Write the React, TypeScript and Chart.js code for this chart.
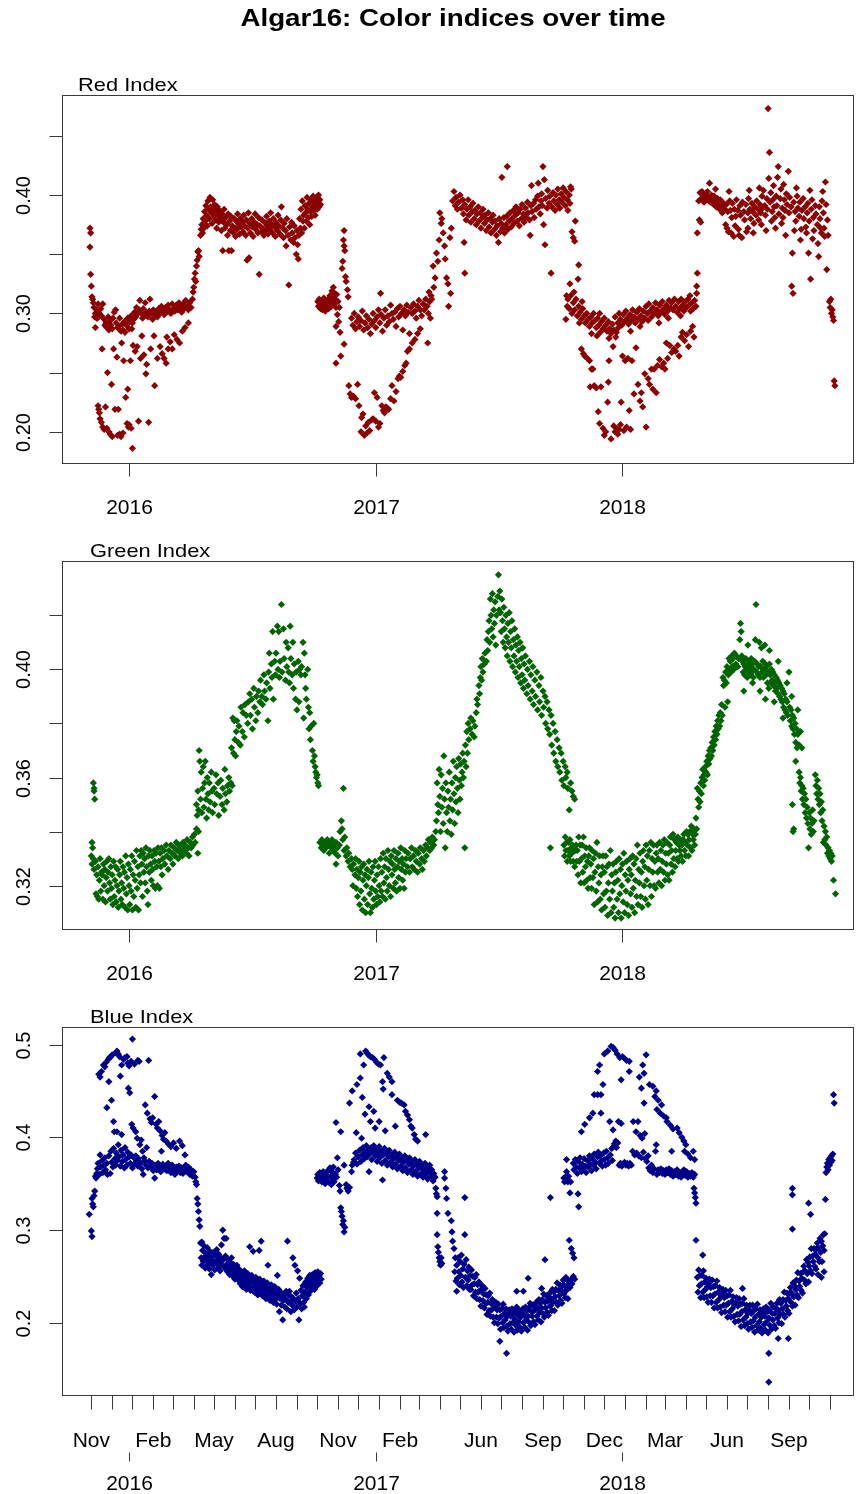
import React, { useEffect, useRef } from "react";
import { Chart, registerables } from "chart.js";

Chart.register(...registerables);

type Pt = [number, number]; // [days since 2016-01-01, index value]

// ---- Red chromatic index ----
const redPoints: Pt[] = [
  [-58,0.372],[-57,0.368],[-58,0.356],[-57,0.333],[-56,0.323],[-55,0.314],[-54,0.312],[-53,0.309],[-52,0.305],[-51,0.297],[-50,0.288],[-49,0.300],[-48,0.296],
  [-46,0.222],[-45,0.219],[-44,0.216],[-43,0.211],[-41,0.208],[-40,0.270],[-39,0.204],[-37,0.202],[-35,0.221],[-33,0.203],[-32,0.250],[-30,0.200],[-28,0.198],[-26,0.240],[-25,0.196],[-23,0.270],[-21,0.219],[-18,0.263],[-17,0.197],[-16,0.219],[-14,0.198],[-12,0.196],[-11,0.275],[-9,0.199],[-8,0.260],[-5,0.229],[-3,0.207],[-2,0.236],[-1,0.204],[0,0.206],[2,0.260],[3,0.203],[4,0.287],[5,0.186],[6,0.273],[9,0.268],[12,0.272],[14,0.209],[17,0.262],[19,0.281],[22,0.265],[25,0.249],[26,0.257],[29,0.208],[32,0.270],[37,0.281],[38,0.239],[42,0.262],[46,0.272],[49,0.266],[52,0.262],[55,0.258],[56,0.280],[58,0.270],[61,0.276],[64,0.270],[67,0.282],[71,0.278],[75,0.275],[79,0.285],[83,0.288],[88,0.292],
  [-50,0.300],[-48,0.303],[-47,0.296],[-46,0.308],[-44,0.300],[-42,0.304],[-41,0.298],[-39,0.308],[-37,0.295],[-36,0.290],[-34,0.292],[-33,0.288],[-31,0.297],[-30,0.286],[-29,0.293],[-27,0.290],[-25,0.287],[-24,0.296],[-22,0.301],[-20,0.303],[-19,0.292],[-17,0.288],[-15,0.289],[-14,0.296],[-12,0.285],[-10,0.291],[-9,0.286],[-7,0.293],[-6,0.284],[-4,0.290],[-2,0.296],[0,0.287],[1,0.293],[3,0.298],[5,0.292],[7,0.295],[8,0.301],[10,0.297],[11,0.305],[13,0.300],[15,0.303],[16,0.311],[18,0.300],[20,0.296],[21,0.304],[23,0.299],[24,0.309],[26,0.301],[28,0.297],[30,0.302],[31,0.312],[33,0.300],[35,0.295],[36,0.303],[38,0.299],[40,0.301],[42,0.297],[44,0.304],[46,0.300],[48,0.306],[50,0.303],[52,0.299],[54,0.305],[56,0.301],[58,0.307],[60,0.303],[62,0.300],[64,0.308],[66,0.304],[68,0.302],[70,0.307],[72,0.303],[74,0.309],[76,0.305],[78,0.301],[80,0.308],[82,0.304],[84,0.311],[86,0.306],[88,0.303],[90,0.309],[92,0.305],[94,0.312],
  [95,0.318],[96,0.322],[97,0.329],[98,0.334],[99,0.327],[100,0.340],[101,0.345],[102,0.352],[103,0.353],[104,0.348],[106,0.366],[107,0.371],[108,0.375],[109,0.368],
  [110,0.380],[111,0.372],[112,0.386],[113,0.378],[114,0.391],[115,0.383],[116,0.374],[117,0.395],[118,0.388],[119,0.380],[120,0.398],[121,0.390],[122,0.385],[123,0.376],[124,0.396],[125,0.388],[126,0.382],[127,0.392],[128,0.379],[129,0.386],[130,0.372],[131,0.390],[132,0.383],[133,0.377],[134,0.387],[136,0.380],[137,0.370],[138,0.384],[139,0.353],[140,0.377],[141,0.388],[142,0.372],[143,0.381],[145,0.375],[146,0.366],[147,0.384],[148,0.353],[149,0.378],[150,0.370],[151,0.382],[152,0.353],[153,0.374],[155,0.368],[156,0.380],[157,0.372],[158,0.365],[159,0.378],[160,0.371],[161,0.384],[163,0.375],[164,0.367],[165,0.380],[166,0.373],[168,0.377],[169,0.369],[170,0.383],[171,0.374],[173,0.366],[174,0.379],[175,0.345],[176,0.372],[177,0.385],[178,0.347],[179,0.376],[180,0.368],[182,0.380],[183,0.373],[184,0.365],[186,0.377],[187,0.384],[188,0.371],[190,0.375],[191,0.368],[192,0.381],[193,0.333],[194,0.374],[196,0.369],[197,0.379],[198,0.372],[200,0.366],[201,0.377],[202,0.370],[204,0.382],[205,0.374],[206,0.367],[208,0.378],[209,0.371],[210,0.385],[212,0.375],[213,0.368],[214,0.380],[216,0.373],[217,0.365],[218,0.377],[220,0.370],[221,0.383],[222,0.374],[224,0.367],[225,0.379],[226,0.390],[228,0.372],[229,0.364],[230,0.376],[232,0.370],[233,0.357],[234,0.380],[236,0.366],[237,0.324],[238,0.373],[240,0.362],[241,0.377],[242,0.368],[244,0.360],[245,0.374],[246,0.364],[248,0.350],[249,0.370],[250,0.358],[251,0.346],[252,0.366],[253,0.380],[254,0.372],[255,0.388],[256,0.368],[257,0.395],[258,0.378],[259,0.383],[260,0.372],[261,0.391],[262,0.385],[263,0.378],[264,0.398],[265,0.388],[266,0.381],[267,0.393],[268,0.375],[269,0.386],[270,0.396],[271,0.382],[272,0.390],[273,0.399],[274,0.387],[275,0.394],[276,0.383],[277,0.391],[278,0.397],[279,0.388],[280,0.394],[281,0.400],[282,0.390],[283,0.396],[284,0.392],
  [280,0.310],[281,0.306],[282,0.312],[283,0.308],[284,0.304],[285,0.311],[286,0.307],[287,0.303],[288,0.309],[289,0.313],[290,0.306],[291,0.302],[292,0.310],[293,0.305],[294,0.308],[295,0.312],[296,0.304],[297,0.309],[298,0.315],[299,0.311],[300,0.306],[301,0.319],[302,0.313],[303,0.322],[304,0.308],[305,0.317],[306,0.312],[307,0.305],[308,0.316],[309,0.299],[310,0.310],[311,0.293],[312,0.305],
  [319,0.370],[318,0.362],[319,0.357],[320,0.353],[317,0.344],[316,0.338],[321,0.331],[322,0.327],[324,0.320],[325,0.314],[307,0.289],[313,0.284],[319,0.274],[307,0.258],[314,0.264],
  [326,0.239],[328,0.232],[330,0.229],[333,0.230],[336,0.228],[339,0.240],[341,0.222],[344,0.200],[345,0.212],[347,0.215],[349,0.197],[351,0.205],[353,0.199],[355,0.208],[357,0.201],[360,0.210],[362,0.211],[364,0.233],[366,0.209],[368,0.229],[370,0.204],[372,0.207],[375,0.222],[377,0.218],[379,0.216],[381,0.221],[383,0.220],[385,0.219],[388,0.228],[390,0.239],[393,0.226],[396,0.234],[399,0.245],[401,0.247],[403,0.246],[406,0.251],[409,0.256],[411,0.258],[413,0.268],[416,0.270],[420,0.275],[424,0.278],[428,0.283],[432,0.287],
  [330,0.296],[332,0.290],[334,0.300],[336,0.287],[338,0.293],[340,0.297],[342,0.289],[344,0.294],[346,0.302],[348,0.286],[350,0.292],[352,0.298],[354,0.288],[356,0.295],[358,0.283],[360,0.291],[362,0.300],[364,0.294],[366,0.288],[368,0.297],[370,0.303],[372,0.292],[373,0.317],[374,0.299],[376,0.285],[378,0.296],[380,0.303],[382,0.290],[384,0.298],[386,0.293],[388,0.307],[390,0.300],[392,0.295],[394,0.301],[396,0.289],[398,0.304],[400,0.297],[402,0.306],[404,0.300],[406,0.286],[408,0.303],[410,0.298],[412,0.307],[414,0.301],[416,0.283],[418,0.305],[420,0.300],[422,0.308],[424,0.302],[426,0.296],[428,0.306],[430,0.311],[432,0.303],[434,0.298],[436,0.308],[438,0.303],[440,0.312],[442,0.306],[444,0.300],[446,0.310],[448,0.315],
  [443,0.275],[445,0.318],[447,0.296],[449,0.312],[451,0.340],[452,0.322],[454,0.330],[456,0.351],[458,0.344],[460,0.362],[461,0.385],[463,0.376],[464,0.380],[466,0.368],[468,0.357],[469,0.346],[471,0.330],[473,0.325],[474,0.306],[476,0.364],[477,0.317],[478,0.372],[480,0.395],[482,0.403],[484,0.391],[485,0.398],[487,0.388],[489,0.394],[491,0.400],[493,0.389],[495,0.396],[497,0.360],[498,0.334],
  [496,0.384],[498,0.392],[500,0.379],[501,0.388],[503,0.396],[504,0.383],[506,0.390],[507,0.377],[509,0.386],[510,0.393],[512,0.380],[513,0.387],[515,0.375],[516,0.384],[518,0.390],[519,0.378],[521,0.385],[522,0.372],[524,0.381],[525,0.388],[527,0.376],[528,0.383],[530,0.370],[531,0.379],[533,0.385],[534,0.373],[536,0.380],[537,0.368],[539,0.377],[540,0.383],[542,0.371],[543,0.378],[545,0.366],[546,0.374],[548,0.360],[549,0.380],[551,0.369],[552,0.376],[553,0.415],[554,0.372],[556,0.381],[557,0.368],[559,0.375],[560,0.382],[561,0.424],[562,0.371],[564,0.378],[565,0.385],[567,0.373],[568,0.380],[570,0.387],[571,0.376],[573,0.383],[574,0.390],[576,0.378],[577,0.385],[579,0.374],[580,0.388],[582,0.380],[583,0.392],[585,0.384],[586,0.377],[588,0.389],[589,0.381],[591,0.394],[592,0.385],[594,0.379],[595,0.366],[596,0.391],[597,0.408],[598,0.386],[600,0.393],[601,0.381],[603,0.396],[604,0.388],[606,0.399],[607,0.410],[608,0.390],[610,0.384],[611,0.395],[612,0.401],[613,0.391],[614,0.424],[615,0.375],[616,0.413],[617,0.358],[618,0.397],[620,0.389],[621,0.404],[623,0.393],[624,0.399],[626,0.334],[627,0.390],[629,0.402],[630,0.395],[632,0.387],[633,0.400],[635,0.392],[636,0.405],[638,0.396],[639,0.389],[641,0.401],[642,0.394],[644,0.406],[645,0.398],[647,0.391],[648,0.403],[650,0.396],[651,0.387],[653,0.400],[654,0.393],[656,0.405],
  [655,0.407],[657,0.369],[659,0.364],[661,0.361],[662,0.378],[666,0.329],[667,0.341],[654,0.325],[649,0.315],[650,0.306],[648,0.295],
  [651,0.312],[653,0.304],[655,0.315],[657,0.300],[659,0.309],[661,0.303],[663,0.312],[665,0.298],[667,0.306],[669,0.301],[671,0.295],[673,0.304],[675,0.298],[677,0.292],[679,0.300],[681,0.295],[683,0.289],[685,0.297],[687,0.292],[689,0.300],[691,0.294],[693,0.288],[695,0.296],[697,0.290],[699,0.284],[701,0.293],[703,0.287],[705,0.296],[707,0.290],[709,0.285],[711,0.293],[713,0.287],[715,0.283],[717,0.291],[719,0.286],[721,0.297],[723,0.284],[725,0.292],[727,0.300],[729,0.295],[731,0.290],[733,0.299],[735,0.293],[737,0.302],[739,0.296],[741,0.291],[743,0.299],[745,0.294],[747,0.303],[749,0.297],[751,0.292],[753,0.301],[755,0.295],[757,0.304],[759,0.298],[761,0.293],[763,0.302],[765,0.296],[767,0.306],[769,0.300],[771,0.308],[773,0.302],[775,0.297],[777,0.305],[779,0.300],[781,0.309],[783,0.303],[785,0.298],[787,0.307],[789,0.301],[791,0.310],[793,0.304],[795,0.299],[797,0.307],[799,0.302],[801,0.311],[803,0.305],[805,0.309],[807,0.303],[809,0.312],[811,0.306],[813,0.301],[815,0.310],[817,0.304],[819,0.312],[821,0.307],[823,0.302],[825,0.310],[827,0.305],[829,0.312],[831,0.307],[833,0.302],[835,0.309],[837,0.304],[839,0.311],
  [660,0.318],[668,0.292],[672,0.310],[686,0.283],[694,0.281],[698,0.300],[712,0.279],[722,0.280],[726,0.288],[744,0.285],[758,0.289],[770,0.294],[786,0.292],[800,0.296],[818,0.298],[832,0.315],
  [671,0.270],[674,0.266],[676,0.264],[680,0.262],[683,0.260],[684,0.238],[686,0.253],[688,0.253],[690,0.239],[693,0.237],[696,0.217],[698,0.207],[700,0.238],[703,0.203],[705,0.197],[707,0.200],[710,0.225],[711,0.242],[712,0.260],[715,0.194],[718,0.272],[719,0.205],[721,0.200],[723,0.203],[725,0.198],[727,0.202],[729,0.206],[730,0.225],[732,0.264],[734,0.201],[736,0.260],[738,0.204],[740,0.262],[742,0.218],[744,0.202],[746,0.260],[749,0.232],[752,0.271],[755,0.240],[758,0.226],[760,0.233],[762,0.221],[765,0.249],[767,0.204],[770,0.245],[772,0.240],[775,0.253],[777,0.236],[779,0.253],[782,0.233],[784,0.256],[787,0.261],[790,0.255],[793,0.258],[795,0.253],[797,0.275],[799,0.262],[802,0.273],[805,0.267],[808,0.270],[811,0.268],[814,0.273],[816,0.264],[819,0.280],[821,0.284],[824,0.277],[827,0.282],[830,0.272],[833,0.285],[836,0.289],[838,0.280],
  [841,0.306],[842,0.317],[842,0.323],[843,0.334],[843,0.368],[846,0.379],[848,0.377],
  [845,0.395],[847,0.402],[849,0.397],[850,0.403],[852,0.399],[853,0.394],[855,0.401],[856,0.396],[858,0.403],[859,0.398],[861,0.410],[862,0.394],[864,0.400],[865,0.396],[867,0.392],[868,0.399],[870,0.394],[871,0.390],[873,0.397],[874,0.392],[876,0.388],[877,0.396],[879,0.390],[880,0.385],[882,0.393],[883,0.388],[885,0.375],[886,0.392],[888,0.386],[889,0.369],[891,0.395],[892,0.387],[894,0.381],[895,0.393],[897,0.365],[898,0.388],[900,0.382],[901,0.396],[903,0.387],[904,0.371],[906,0.391],[907,0.383],[909,0.364],[910,0.394],[912,0.386],[913,0.379],[915,0.392],[916,0.369],[918,0.385],[919,0.397],[921,0.388],[922,0.380],[924,0.393],[925,0.386],[927,0.376],[928,0.390],[930,0.383],[931,0.395],[933,0.388],[934,0.379],[936,0.392],[937,0.385],[939,0.399],[940,0.389],[941,0.404],[943,0.391],[944,0.383],[946,0.397],[947,0.388],[948,0.473],[949,0.414],[950,0.436],[951,0.394],[952,0.402],[954,0.386],[955,0.396],[957,0.390],[958,0.381],[960,0.399],[961,0.391],[962,0.415],[963,0.424],[964,0.384],[966,0.397],[967,0.405],[969,0.389],[970,0.381],[972,0.396],[973,0.387],[975,0.401],[976,0.392],[978,0.420],[979,0.385],[980,0.398],[982,0.390],[983,0.323],[984,0.351],[985,0.317],[986,0.394],[988,0.386],[989,0.378],[991,0.399],[992,0.389],[994,0.382],[995,0.394],[997,0.371],[998,0.387],[1000,0.397],[1001,0.380],[1003,0.390],[1004,0.373],[1006,0.385],[1007,0.393],[1008,0.351],[1009,0.378],[1011,0.329],[1012,0.388],[1013,0.396],[1015,0.381],[1016,0.370],[1018,0.391],[1019,0.384],[1021,0.375],[1022,0.359],[1023,0.348],[1024,0.390],[1025,0.380],[1027,0.368],[1028,0.395],[1030,0.385],[1031,0.372],[1033,0.411],[1034,0.392],[1035,0.337],[1036,0.379],[1037,0.366],
  [887,0.372],[893,0.368],[899,0.374],[905,0.366],[918,0.372],[926,0.368],[938,0.375],[945,0.370],[953,0.378],[959,0.372],[968,0.376],[974,0.366],[987,0.370],[996,0.362],[1005,0.368],[1014,0.363],[1026,0.372],[1032,0.365],
  [870,0.405],[890,0.403],[920,0.404],[935,0.406],[956,0.408],[971,0.409],[990,0.406],[1010,0.404],[1029,0.403],
  [1039,0.310],[1040,0.305],[1041,0.312],[1042,0.300],[1043,0.303],[1044,0.297],[1045,0.294],[1046,0.243],[1047,0.239],
];

// ---- Green chromatic index ----
const greenPoints: Pt[] = [
  [-53,0.358],[-52,0.356],[-52,0.355],[-51,0.352],[-55,0.336],[-54,0.334],
  [-56,0.331],[-55,0.328],[-53,0.330],[-52,0.326],[-50,0.329],[-49,0.317],[-48,0.324],[-47,0.316],[-46,0.327],[-45,0.315],[-44,0.322],[-43,0.330],[-42,0.318],[-41,0.325],[-40,0.324],[-39,0.315],[-38,0.328],[-37,0.320],[-36,0.326],[-35,0.314],[-34,0.323],[-33,0.329],[-32,0.318],[-31,0.325],[-30,0.330],[-29,0.321],[-28,0.315],[-27,0.327],[-26,0.319],[-25,0.324],[-24,0.313],[-23,0.329],[-22,0.316],[-21,0.322],[-20,0.327],[-19,0.314],[-18,0.320],[-17,0.326],[-16,0.312],[-15,0.318],[-14,0.324],[-13,0.329],[-12,0.315],[-11,0.321],[-10,0.313],[-9,0.327],[-8,0.319],[-7,0.325],[-6,0.312],[-5,0.331],[-4,0.317],[-3,0.323],[-2,0.311],[-1,0.328],[0,0.320],[1,0.313],[2,0.326],[3,0.318],[4,0.331],[5,0.311],[6,0.324],[7,0.316],[8,0.329],[9,0.322],[10,0.312],[11,0.333],[12,0.319],[13,0.327],[14,0.311],[15,0.324],[16,0.331],[17,0.321],[18,0.333],[19,0.328],[20,0.316],[21,0.332],[22,0.325],[23,0.330],[24,0.321],[25,0.334],[26,0.327],[27,0.318],[28,0.313],[29,0.331],[30,0.325],[31,0.333],[32,0.328],[33,0.322],[34,0.331],[35,0.326],[36,0.320],[37,0.333],[38,0.329],[39,0.319],[40,0.332],[41,0.327],[42,0.320],[43,0.334],[44,0.329],[45,0.319],[46,0.332],[47,0.327],[48,0.334],[49,0.324],[50,0.330],[52,0.333],[53,0.328],[55,0.335],[56,0.331],[58,0.326],[59,0.333],[61,0.330],[62,0.335],[64,0.332],[65,0.328],[67,0.334],[68,0.331],[70,0.336],[71,0.333],[73,0.330],[74,0.335],[76,0.332],[77,0.334],[79,0.331],[80,0.336],[82,0.333],[83,0.335],[85,0.332],[86,0.337],[88,0.334],[89,0.331],[91,0.336],[92,0.334],[94,0.338],[95,0.335],[97,0.339],[98,0.336],[100,0.341],[102,0.332],[103,0.340],
  [100,0.350],[101,0.346],[102,0.355],[103,0.348],[104,0.370],[105,0.366],[106,0.352],[107,0.362],[108,0.347],[109,0.356],[110,0.364],[111,0.349],[112,0.358],[113,0.366],[114,0.352],[115,0.345],[116,0.360],[117,0.354],[118,0.348],[119,0.358],[120,0.351],[122,0.362],[123,0.355],[124,0.347],[126,0.356],[127,0.350],[129,0.361],[130,0.354],[132,0.358],[133,0.346],[135,0.353],[136,0.359],[138,0.350],[139,0.356],[141,0.348],[142,0.363],[143,0.354],[145,0.351],[146,0.357],[148,0.360],[149,0.355],[151,0.358],[152,0.371],[153,0.357],[154,0.382],[155,0.369],[156,0.381],[157,0.374],[158,0.368],[159,0.377],[160,0.381],[162,0.373],[163,0.379],[165,0.372],[166,0.386],[168,0.377],[169,0.384],[171,0.375],[172,0.387],[174,0.383],[176,0.380],[177,0.388],[179,0.391],[180,0.383],[182,0.389],[183,0.378],[185,0.393],[186,0.386],[188,0.381],[189,0.390],[191,0.384],[192,0.392],[194,0.388],[195,0.396],[197,0.390],[198,0.387],[200,0.398],[201,0.392],[203,0.389],[204,0.395],[206,0.381],[207,0.399],[208,0.406],[209,0.393],[211,0.402],[212,0.397],[213,0.414],[214,0.389],[216,0.403],[217,0.398],[218,0.406],[220,0.416],[221,0.400],[222,0.414],[223,0.397],[224,0.403],[226,0.424],[227,0.399],[229,0.415],[230,0.404],[232,0.396],[233,0.410],[234,0.401],[236,0.408],[237,0.399],[238,0.395],[239,0.416],[240,0.404],[242,0.398],[243,0.410],[244,0.393],[245,0.402],[247,0.389],[248,0.399],[249,0.385],[251,0.403],[252,0.388],[253,0.400],[255,0.398],[256,0.401],[258,0.410],[259,0.382],[260,0.406],[261,0.398],[262,0.393],[263,0.389],[265,0.400],[266,0.386],[267,0.378],[268,0.384],[269,0.374],[270,0.379],[272,0.370],[273,0.366],[274,0.380],[275,0.368],[276,0.364],[277,0.362],[278,0.360],[279,0.361],[280,0.358],[281,0.357],
  [318,0.356],[283,0.336],[285,0.334],[286,0.337],[288,0.335],[289,0.333],[291,0.336],[292,0.334],[294,0.337],[295,0.335],[297,0.332],[298,0.336],[300,0.334],[301,0.337],[303,0.333],[304,0.335],[306,0.332],[307,0.336],[309,0.334],[310,0.331],[312,0.335],[313,0.340],[315,0.344],[316,0.341],[317,0.337],[319,0.333],[320,0.338],[322,0.331],[323,0.334],[325,0.329],[326,0.332],[328,0.327],
  [307,0.328],[330,0.330],[331,0.326],[332,0.320],[333,0.328],[335,0.324],[336,0.330],[337,0.319],[338,0.326],[339,0.316],[340,0.323],[341,0.329],[342,0.313],[343,0.325],[344,0.318],[345,0.327],[346,0.311],[347,0.322],[348,0.328],[349,0.315],[350,0.324],[351,0.310],[352,0.320],[353,0.326],[354,0.313],[355,0.323],[356,0.329],[357,0.317],[358,0.310],[359,0.325],[360,0.319],[361,0.312],[362,0.327],[363,0.315],[364,0.322],[365,0.329],[366,0.318],[367,0.313],[368,0.324],[369,0.316],[370,0.327],[371,0.320],[372,0.314],[373,0.330],[374,0.318],[375,0.325],[376,0.316],[377,0.332],[378,0.321],[379,0.327],[380,0.315],[381,0.330],[382,0.323],[383,0.318],[384,0.333],[385,0.326],[386,0.320],[387,0.329],[388,0.316],[389,0.331],[390,0.324],[391,0.328],[392,0.319],[393,0.333],[394,0.326],[395,0.321],[396,0.330],[397,0.318],[398,0.327],[399,0.332],[400,0.323],[401,0.329],[402,0.319],[403,0.334],[404,0.326],[405,0.330],[406,0.322],[407,0.328],[408,0.319],[409,0.333],[410,0.325],[411,0.330],[413,0.327],[414,0.332],[416,0.325],[417,0.330],[419,0.334],[420,0.327],[422,0.331],[423,0.326],[425,0.333],[426,0.329],[428,0.325],[429,0.332],[431,0.328],[432,0.334],[434,0.330],[435,0.326],[437,0.333],[438,0.329],[440,0.335],[441,0.331],[443,0.334],[444,0.337],[446,0.333],[447,0.336],[449,0.334],[450,0.338],[452,0.335],[453,0.337],[455,0.340],
  [456,0.344],[457,0.358],[458,0.350],[459,0.347],[460,0.363],[461,0.353],[462,0.340],[463,0.361],[464,0.349],[465,0.356],[466,0.343],[467,0.368],[468,0.352],[469,0.334],[470,0.358],[471,0.347],[472,0.340],[473,0.355],[474,0.349],[475,0.362],[476,0.344],[477,0.352],[478,0.339],[479,0.358],[480,0.348],[481,0.366],[482,0.354],[483,0.343],[484,0.360],[485,0.351],[486,0.364],[487,0.356],[488,0.347],[489,0.367],[490,0.359],[491,0.352],[492,0.365],[493,0.357],[494,0.362],[495,0.369],[496,0.360],[497,0.366],[498,0.334],[499,0.372],[500,0.364],[501,0.377],[502,0.369],[503,0.380],[504,0.374],[506,0.378],[507,0.382],[509,0.376],[510,0.381],[512,0.375],[513,0.379],[515,0.384],[516,0.389],[517,0.387],[519,0.394],[520,0.391],[521,0.397],[522,0.401],[523,0.396],[524,0.404],[525,0.399],[527,0.402],[528,0.406],[530,0.403],[531,0.411],[532,0.407],[533,0.414],[534,0.418],[535,0.410],[536,0.426],[537,0.420],[538,0.415],[539,0.428],[540,0.412],[541,0.422],[542,0.417],[543,0.425],[544,0.409],[545,0.420],[547,0.427],[548,0.435],[549,0.422],[550,0.429],
  [551,0.421],[552,0.414],[553,0.426],[554,0.418],[555,0.410],[556,0.423],[557,0.415],[558,0.408],[559,0.420],[560,0.412],[561,0.405],[562,0.417],[563,0.410],[564,0.421],[565,0.403],[566,0.414],[567,0.408],[568,0.418],[569,0.401],[570,0.411],[571,0.405],[572,0.415],[573,0.399],[574,0.409],[575,0.403],[576,0.412],[577,0.397],[578,0.407],[579,0.401],[580,0.410],[581,0.395],[582,0.404],[583,0.398],[584,0.408],[585,0.393],[586,0.402],[587,0.396],[588,0.405],[590,0.391],[591,0.400],[592,0.394],[594,0.403],[595,0.389],[596,0.398],[598,0.392],[599,0.401],[600,0.387],[602,0.396],[603,0.390],[605,0.399],[606,0.385],[608,0.394],[609,0.388],[611,0.397],[612,0.383],[614,0.392],[615,0.386],[617,0.390],[618,0.380],[620,0.388],[621,0.378],[623,0.385],[624,0.376],[625,0.334],[626,0.383],[627,0.372],[629,0.380],[630,0.369],[632,0.377],[633,0.366],[635,0.374],[636,0.364],[638,0.371],[639,0.362],[641,0.369],[642,0.359],[644,0.366],[645,0.357],[647,0.364],[648,0.360],[650,0.362],[651,0.356],[653,0.348],[655,0.358],[657,0.355],[659,0.353],[661,0.352],
  [645,0.335],[646,0.331],[647,0.338],[648,0.333],[649,0.336],[650,0.329],[651,0.333],[652,0.336],[653,0.331],[654,0.337],[655,0.329],[656,0.334],[657,0.332],[658,0.335],[659,0.329],[660,0.333],[661,0.327],[662,0.333],[663,0.335],[664,0.329],[665,0.333],[666,0.324],[667,0.338],[668,0.329],[669,0.335],[670,0.321],[671,0.330],[672,0.335],[673,0.325],[674,0.338],[675,0.321],[676,0.331],[677,0.327],[678,0.334],[679,0.322],[680,0.329],[681,0.319],[682,0.331],[683,0.334],[684,0.323],[685,0.328],[686,0.319],[687,0.333],[688,0.323],[689,0.330],[690,0.313],[691,0.325],[692,0.332],[693,0.318],[694,0.336],[695,0.314],[696,0.327],[697,0.321],[698,0.331],[699,0.315],[700,0.324],[701,0.311],[702,0.327],[703,0.331],[704,0.317],[705,0.325],[706,0.312],[707,0.331],[708,0.318],[709,0.327],[710,0.309],[711,0.321],[712,0.328],[713,0.315],[714,0.333],[715,0.310],[716,0.324],[717,0.318],[718,0.328],[719,0.312],[720,0.321],[721,0.308],[722,0.325],[723,0.329],[724,0.315],[725,0.322],[726,0.310],[727,0.330],[728,0.317],[729,0.326],[730,0.308],[731,0.320],[732,0.328],[733,0.314],[734,0.332],[735,0.310],[736,0.324],[737,0.318],[738,0.329],[739,0.313],[740,0.322],[741,0.309],[742,0.326],[743,0.330],[744,0.317],[745,0.324],[746,0.312],[747,0.331],[748,0.319],[749,0.328],[750,0.310],[751,0.322],[752,0.330],[753,0.316],[754,0.335],[755,0.313],[756,0.326],[757,0.321],[758,0.332],[759,0.316],[760,0.325],[761,0.312],[762,0.329],[763,0.333],[764,0.320],[765,0.327],[766,0.315],[767,0.335],[768,0.322],[769,0.331],[770,0.313],[771,0.326],[772,0.333],[773,0.320],[774,0.336],[775,0.316],[776,0.330],[777,0.325],[778,0.335],[779,0.320],[780,0.329],[781,0.319],[782,0.332],[783,0.335],[784,0.325],[785,0.330],[786,0.321],[787,0.336],[788,0.326],[789,0.333],[790,0.320],[791,0.329],[792,0.335],[793,0.325],[794,0.337],[795,0.322],[796,0.332],[797,0.328],[798,0.336],[799,0.324],[800,0.332],[801,0.322],[802,0.335],[803,0.338],[804,0.328],[805,0.333],[806,0.325],[807,0.339],[808,0.330],[809,0.337],[810,0.327],[811,0.333],[812,0.336],[813,0.330],[814,0.338],[815,0.329],[816,0.335],[817,0.333],[818,0.337],[819,0.331],[820,0.335],[821,0.329],[822,0.337],[823,0.339],[824,0.333],[825,0.336],[826,0.331],[827,0.340],[828,0.335],[829,0.339],[830,0.331],[831,0.337],[832,0.340],[833,0.334],[834,0.342],[835,0.333],[836,0.339],[837,0.337],[838,0.341],[839,0.335],[840,0.339],
  [841,0.345],[842,0.341],[843,0.356],[844,0.352],[845,0.349],[846,0.355],[847,0.351],[848,0.358],[849,0.354],[850,0.360],[851,0.363],[852,0.357],[853,0.361],[854,0.359],[855,0.364],[856,0.362],[857,0.366],[858,0.361],[859,0.368],[860,0.365],[861,0.370],[862,0.367],[863,0.371],[864,0.368],[865,0.373],[866,0.370],[867,0.375],[868,0.372],[869,0.377],[870,0.374],[871,0.379],[872,0.376],[873,0.381],[874,0.378],[875,0.383],[876,0.379],[877,0.384],[878,0.381],[879,0.387],[880,0.383],[881,0.397],[882,0.394],[883,0.396],[884,0.386],[885,0.399],[886,0.395],[887,0.401],[888,0.388],[889,0.398],[890,0.404],[891,0.400],[892,0.403],[893,0.399],[894,0.405],[895,0.401],[896,0.404],[897,0.400],[898,0.406],[900,0.402],[901,0.405],[903,0.401],[904,0.404],[906,0.411],[907,0.417],[908,0.414],[909,0.405],
  [910,0.403],[911,0.399],[912,0.402],[913,0.398],[914,0.401],[915,0.404],[916,0.400],[917,0.397],[918,0.402],[919,0.399],[920,0.403],[921,0.398],[922,0.401],[923,0.404],[924,0.399],[925,0.402],[926,0.397],[927,0.400],[928,0.403],[930,0.424],[931,0.399],[932,0.402],[933,0.398],[934,0.401],[935,0.410],[936,0.397],[937,0.401],[938,0.408],[939,0.399],[940,0.403],[941,0.397],[942,0.400],[943,0.409],[944,0.402],[945,0.398],[946,0.401],[947,0.395],[948,0.399],[949,0.393],[950,0.402],[951,0.398],[952,0.395],[953,0.400],[954,0.396],[955,0.399],[956,0.394],[957,0.398],[958,0.395],[959,0.392],[960,0.397],[961,0.393],[962,0.396],[963,0.391],[964,0.395],[965,0.390],[966,0.394],[967,0.389],[968,0.393],[969,0.388],[970,0.392],[971,0.386],[972,0.391],[973,0.385],[974,0.389],[975,0.384],[976,0.388],[977,0.383],[979,0.399],[980,0.386],[981,0.381],[982,0.385],[983,0.379],[984,0.383],[985,0.378],[986,0.382],[987,0.376],[988,0.380],[989,0.373],[990,0.378],[991,0.371],[992,0.376],[994,0.372],[996,0.377],[998,0.371],
  [912,0.392],[918,0.409],[925,0.395],[929,0.411],[936,0.392],[944,0.389],[950,0.407],[957,0.388],[963,0.403],[970,0.382],[976,0.395],[983,0.390],[989,0.366],[992,0.385],
  [984,0.350],[985,0.340],[986,0.341],[994,0.362],[995,0.358],[996,0.360],[997,0.355],[998,0.357],[999,0.352],[1000,0.356],[1001,0.350],[1002,0.354],[1003,0.347],[1004,0.352],[1005,0.345],[1006,0.349],[1007,0.343],[1008,0.334],[1009,0.347],[1010,0.341],[1011,0.345],[1012,0.339],[1013,0.343],[1014,0.348],[1015,0.340],[1016,0.344],[1018,0.361],[1019,0.357],[1020,0.354],[1021,0.359],[1022,0.352],[1023,0.356],[1024,0.350],[1025,0.354],[1026,0.347],[1027,0.351],[1028,0.344],[1029,0.348],[1030,0.336],[1031,0.342],[1032,0.337],[1033,0.340],[1034,0.335],[1035,0.338],[1036,0.332],[1037,0.334],[1038,0.331],[1039,0.333],[1040,0.330],[1041,0.332],[1042,0.329],[1043,0.331],[1045,0.322],[1048,0.317],
];

// ---- Blue chromatic index ----
const bluePoints: Pt[] = [
  [-59,0.317],[-56,0.299],[-55,0.293],[-55,0.334],[-54,0.328],[-53,0.325],[-52,0.337],[-51,0.342],[-50,0.358],[-49,0.356],[-48,0.361],
  [-45,0.468],[-43,0.465],[-41,0.471],[-38,0.478],[-36,0.476],[-34,0.481],[-33,0.432],[-31,0.484],[-30,0.460],[-29,0.486],[-27,0.487],[-26,0.440],[-25,0.489],[-23,0.417],[-22,0.406],[-20,0.491],[-18,0.493],[-18,0.406],[-16,0.490],[-14,0.487],[-13,0.466],[-11,0.478],[-11,0.403],[-8,0.484],[-6,0.486],[-3,0.487],[-2,0.480],[-1,0.453],[0,0.477],[1,0.448],[3,0.482],[4,0.414],[5,0.506],[6,0.410],[8,0.479],[10,0.406],[12,0.399],[13,0.483],[15,0.482],[16,0.392],[18,0.397],[20,0.385],[22,0.378],[24,0.435],[26,0.389],[27,0.426],[29,0.483],[31,0.420],[33,0.416],[35,0.421],[38,0.444],[40,0.414],[42,0.410],[44,0.417],[46,0.407],[48,0.385],[49,0.402],[51,0.398],[53,0.405],[55,0.396],[58,0.393],[62,0.390],[66,0.394],[70,0.388],[75,0.396],[79,0.391],[83,0.381],
  [-47,0.366],[-46,0.372],[-44,0.360],[-43,0.381],[-42,0.368],[-40,0.375],[-39,0.362],[-37,0.370],[-36,0.378],[-35,0.365],[-33,0.372],[-32,0.360],[-30,0.380],[-28,0.361],[-27,0.385],[-26,0.373],[-24,0.368],[-23,0.388],[-21,0.377],[-20,0.370],[-19,0.383],[-17,0.375],[-16,0.392],[-15,0.379],[-13,0.369],[-12,0.386],[-10,0.374],[-9,0.381],[-7,0.367],[-6,0.389],[-5,0.376],[-3,0.370],[-2,0.384],[0,0.379],[2,0.372],[3,0.381],[5,0.367],[7,0.378],[8,0.371],[10,0.380],[11,0.374],[13,0.369],[14,0.377],[17,0.372],[19,0.366],[21,0.360],[23,0.375],[25,0.370],[28,0.367],[30,0.374],[32,0.368],[34,0.372],[36,0.364],[38,0.356],[39,0.370],[41,0.365],[43,0.372],[45,0.368],[47,0.363],[50,0.371],[52,0.366],[54,0.369],[56,0.364],[58,0.372],[60,0.367],[62,0.362],[64,0.370],[66,0.365],[68,0.360],[70,0.368],[72,0.364],[74,0.369],[76,0.362],[78,0.367],[80,0.361],[82,0.366],[84,0.370],[86,0.363],[88,0.368],[90,0.360],[92,0.365],[94,0.358],[96,0.363],[98,0.357],
  [99,0.352],[100,0.349],[101,0.334],[102,0.328],[103,0.320],[104,0.311],[105,0.304],[106,0.286],[108,0.287],
  [107,0.270],[108,0.262],[109,0.278],[110,0.266],[111,0.283],[112,0.271],[113,0.259],[114,0.275],[115,0.268],[116,0.281],[117,0.263],[118,0.272],[119,0.258],[120,0.277],[121,0.267],[122,0.252],[123,0.271],[124,0.262],[125,0.276],[126,0.266],[127,0.257],[128,0.273],[129,0.264],[130,0.279],[131,0.268],[132,0.259],[133,0.274],[134,0.265],[135,0.256],[136,0.270],[137,0.284],[138,0.262],[139,0.300],[140,0.268],[141,0.291],[142,0.259],[143,0.272],[144,0.291],[145,0.263],[146,0.255],[147,0.268],[148,0.260],[149,0.252],[150,0.265],[151,0.257],[152,0.270],[153,0.261],[154,0.250],[155,0.263],[156,0.255],[157,0.247],[158,0.259],[159,0.251],[160,0.262],[161,0.254],[162,0.246],[163,0.258],[164,0.249],[165,0.242],[166,0.255],[167,0.247],[168,0.239],[169,0.251],[170,0.244],[171,0.256],[172,0.241],[173,0.249],[174,0.236],[175,0.246],[176,0.253],[177,0.240],[178,0.248],[179,0.282],[180,0.235],[181,0.244],[182,0.251],[183,0.238],[184,0.277],[185,0.246],[186,0.233],[187,0.242],[188,0.249],[189,0.236],[190,0.244],[191,0.230],[192,0.239],[193,0.278],[194,0.247],[195,0.234],[196,0.288],[197,0.242],[198,0.229],[199,0.237],[200,0.245],[201,0.231],[202,0.239],[203,0.226],[204,0.235],[205,0.243],[206,0.262],[207,0.229],[208,0.237],[209,0.224],[210,0.233],[211,0.241],[212,0.227],[213,0.235],[214,0.222],[215,0.231],[216,0.239],[217,0.225],[218,0.233],[219,0.220],[220,0.251],[221,0.229],[222,0.236],[223,0.212],[224,0.226],[225,0.233],[226,0.219],[227,0.228],[228,0.203],[229,0.224],[230,0.231],[231,0.217],[232,0.226],[233,0.234],[234,0.215],[235,0.288],[236,0.222],[237,0.230],[238,0.234],[239,0.223],[240,0.212],[241,0.228],[242,0.219],[243,0.270],[244,0.226],[245,0.214],[246,0.262],[247,0.223],[248,0.232],[249,0.217],[250,0.256],[251,0.226],[252,0.203],[253,0.248],[254,0.221],[255,0.235],[256,0.215],[257,0.229],[258,0.240],[259,0.222],[260,0.217],[261,0.233],[262,0.244],[263,0.226],[264,0.238],[265,0.248],[266,0.230],[267,0.242],[268,0.251],[269,0.234],[270,0.245],[271,0.238],[272,0.252],[273,0.241],[274,0.248],[275,0.236],[276,0.254],[277,0.243],[278,0.249],[279,0.240],[280,0.255],[281,0.246],[282,0.251],[283,0.243],[284,0.253],[285,0.247],
  [279,0.356],[280,0.360],[281,0.353],[282,0.358],[283,0.362],[284,0.355],[285,0.359],[286,0.352],[287,0.357],[288,0.363],[289,0.354],[290,0.360],[291,0.350],[292,0.356],[293,0.362],[294,0.353],[295,0.358],[296,0.365],[297,0.351],[298,0.367],[299,0.358],[300,0.349],[301,0.363],[302,0.355],[303,0.368],[304,0.352],[306,0.360],[307,0.416],[308,0.357],[309,0.378],[310,0.365],[312,0.348],[313,0.342],[314,0.406],[314,0.324],[315,0.320],[316,0.315],[317,0.306],[318,0.310],[319,0.298],[319,0.370],[320,0.303],[322,0.349],[323,0.345],[325,0.342],[327,0.346],[330,0.363],[331,0.370],[333,0.373],
  [327,0.437],[331,0.450],[338,0.457],[343,0.464],[348,0.478],[343,0.490],[351,0.493],[353,0.491],[355,0.489],[358,0.487],[361,0.486],[364,0.484],[367,0.481],[370,0.479],[373,0.478],[378,0.486],[376,0.460],[377,0.452],[383,0.469],[386,0.465],[390,0.460],[390,0.446],[398,0.440],[401,0.438],[404,0.437],[408,0.435],[410,0.428],[413,0.424],[416,0.419],[420,0.410],[423,0.403],[428,0.396],[440,0.403],[418,0.412],[425,0.398],
  [346,0.443],[356,0.433],[363,0.428],[371,0.417],[358,0.417],[350,0.425],[337,0.405],[345,0.399],[365,0.410],[380,0.407],[395,0.412],
  [334,0.376],[336,0.383],[338,0.371],[340,0.379],[342,0.386],[344,0.374],[346,0.381],[347,0.389],[349,0.377],[350,0.384],[352,0.391],[353,0.379],[355,0.386],[356,0.363],[357,0.382],[359,0.389],[360,0.376],[362,0.385],[363,0.391],[365,0.380],[366,0.387],[368,0.374],[369,0.383],[371,0.390],[372,0.378],[374,0.385],[375,0.372],[376,0.354],[377,0.381],[379,0.388],[380,0.375],[382,0.383],[383,0.370],[385,0.379],[386,0.386],[388,0.373],[389,0.381],[391,0.368],[392,0.377],[394,0.384],[395,0.371],[397,0.379],[398,0.366],[400,0.375],[401,0.382],[403,0.369],[404,0.377],[406,0.364],[407,0.373],[409,0.380],[410,0.367],[412,0.375],[413,0.362],[415,0.371],[416,0.378],[418,0.365],[419,0.373],[421,0.360],[422,0.369],[424,0.376],[425,0.363],[427,0.371],[428,0.358],[430,0.367],[431,0.374],[433,0.361],[434,0.369],[436,0.357],[437,0.365],[439,0.372],[440,0.360],[442,0.367],[443,0.355],[445,0.363],[446,0.370],[448,0.358],[449,0.365],[451,0.353],[452,0.361],[454,0.357],
  [455,0.345],[456,0.339],[457,0.336],[457,0.318],[457,0.295],[458,0.282],[459,0.276],[460,0.270],[461,0.266],[462,0.262],[463,0.270],[464,0.264],
  [468,0.363],[468,0.356],[470,0.345],[471,0.334],[473,0.318],[478,0.310],[479,0.298],[480,0.288],[482,0.280],[484,0.270],[483,0.255],[485,0.245],[486,0.234],
  [486,0.262],[487,0.248],[488,0.270],[489,0.255],[490,0.241],[491,0.266],[492,0.251],[493,0.273],[494,0.244],[495,0.258],[496,0.238],[497,0.263],[498,0.335],[498,0.295],[499,0.249],[500,0.268],[501,0.240],[502,0.256],[503,0.246],[504,0.260],[505,0.236],
  [506,0.251],[507,0.236],[508,0.257],[509,0.241],[510,0.250],[511,0.229],[512,0.242],[513,0.249],[514,0.233],[515,0.252],[516,0.226],[517,0.241],[518,0.233],[519,0.244],[520,0.225],[521,0.235],[522,0.218],[523,0.236],[524,0.240],[525,0.224],[526,0.231],[527,0.216],[528,0.237],[529,0.221],[530,0.230],[531,0.209],[532,0.222],[533,0.229],[534,0.213],[535,0.232],[536,0.207],[537,0.221],[538,0.214],[539,0.225],[540,0.206],[541,0.216],[542,0.200],[543,0.218],[544,0.222],[545,0.206],[546,0.214],[547,0.199],[548,0.220],[549,0.205],[550,0.214],[550,0.180],[551,0.193],[552,0.207],[553,0.215],[554,0.200],[555,0.220],[556,0.195],[557,0.210],[558,0.203],[559,0.215],[560,0.196],[560,0.167],[561,0.207],[562,0.191],[563,0.210],[564,0.214],[565,0.199],[566,0.207],[567,0.193],[568,0.215],[569,0.200],[570,0.210],[571,0.190],[572,0.204],[573,0.212],[574,0.197],[575,0.217],[575,0.234],[576,0.192],[577,0.208],[578,0.201],[579,0.213],[580,0.195],[581,0.206],[582,0.191],[583,0.210],[584,0.215],[585,0.200],[585,0.234],[586,0.208],[587,0.195],[588,0.217],[589,0.203],[590,0.213],[591,0.192],[592,0.207],[592,0.248],[593,0.216],[594,0.200],[595,0.221],[596,0.197],[597,0.212],[598,0.207],[599,0.219],[600,0.201],[601,0.213],[602,0.198],[603,0.217],[604,0.222],[605,0.207],[606,0.216],[607,0.203],[608,0.225],[609,0.211],[610,0.221],[611,0.201],[612,0.216],[612,0.237],[613,0.225],[614,0.210],[615,0.231],[616,0.206],[617,0.222],[617,0.268],[618,0.216],[619,0.229],[620,0.211],[621,0.223],[622,0.208],[623,0.227],[624,0.232],[625,0.218],[625,0.335],[626,0.226],[627,0.213],[628,0.236],[629,0.222],[630,0.233],[631,0.213],[632,0.228],[633,0.236],[634,0.222],[635,0.243],[636,0.219],[637,0.235],[638,0.229],[639,0.241],[640,0.224],[641,0.235],[642,0.221],[643,0.240],[644,0.246],[645,0.231],[646,0.240],[647,0.227],[648,0.249],[649,0.235],[650,0.246],[651,0.226],[652,0.241],
  [653,0.289],[654,0.238],[655,0.246],[656,0.280],[657,0.242],[658,0.275],[659,0.250],[660,0.270],[661,0.247],
  [645,0.356],[646,0.352],[647,0.357],[648,0.354],[649,0.376],[649,0.363],[650,0.355],[651,0.352],[652,0.358],[654,0.340],[655,0.352],[666,0.339],[667,0.325],
  [671,0.406],[676,0.414],[683,0.421],[688,0.426],[690,0.446],[695,0.446],[700,0.446],[700,0.426],[703,0.457],[695,0.471],[698,0.478],[705,0.490],[710,0.493],[715,0.498],[718,0.497],[721,0.494],[724,0.490],[728,0.486],[732,0.487],[735,0.485],[738,0.483],[742,0.482],[742,0.471],[730,0.462],[762,0.478],[767,0.489],[764,0.469],[757,0.465],[760,0.453],[772,0.457],[777,0.455],[782,0.450],[764,0.437],[780,0.444],[785,0.440],[790,0.435],[783,0.430],[788,0.426],[793,0.423],[797,0.421],[798,0.417],[803,0.413],[807,0.409],[805,0.385],[813,0.410],[816,0.405],[820,0.400],[823,0.396],[826,0.392],[824,0.385],[829,0.382],[833,0.378],[837,0.385],[839,0.376],
  [659,0.372],[660,0.365],[662,0.376],[663,0.368],[665,0.361],[666,0.374],[668,0.367],[669,0.378],[671,0.363],[672,0.371],[674,0.366],[675,0.377],[677,0.369],[678,0.362],[680,0.375],[681,0.368],[683,0.380],[684,0.371],[686,0.364],[687,0.377],[689,0.370],[690,0.382],[692,0.373],[693,0.366],[695,0.379],[696,0.384],[698,0.372],[699,0.380],[701,0.375],[702,0.369],[704,0.383],[705,0.376],[707,0.370],[708,0.385],[710,0.378],[711,0.372],[713,0.417],[714,0.381],[716,0.388],[717,0.375],[718,0.408],[719,0.390],[720,0.393],[722,0.396],[723,0.389],[725,0.394],[726,0.417],[727,0.370],[729,0.372],[730,0.415],[731,0.369],[733,0.371],[735,0.373],[737,0.370],[739,0.372],[741,0.369],[743,0.372],[745,0.370],[747,0.385],[748,0.417],[750,0.381],[752,0.406],[753,0.383],[755,0.417],[756,0.380],[758,0.402],[760,0.378],[761,0.399],[763,0.384],[765,0.404],[766,0.377],[768,0.374],[770,0.380],[771,0.367],[773,0.364],[775,0.370],[777,0.362],[779,0.366],[781,0.385],[782,0.392],[783,0.360],[785,0.365],[787,0.362],[789,0.366],[791,0.361],[793,0.364],[795,0.360],[797,0.365],[799,0.362],[801,0.366],[803,0.360],[805,0.364],[807,0.358],[809,0.363],[811,0.360],[813,0.365],[815,0.358],[817,0.362],[819,0.357],[821,0.361],[823,0.365],[825,0.359],[827,0.363],[829,0.357],[831,0.361],[833,0.358],[835,0.362],[837,0.357],[839,0.360],
  [838,0.345],[839,0.340],[840,0.335],[841,0.329],[841,0.289],[851,0.273],
  [843,0.249],[844,0.233],[845,0.257],[846,0.240],[847,0.251],[848,0.227],[849,0.242],[850,0.251],[851,0.233],[852,0.256],[853,0.227],[854,0.244],[855,0.236],[856,0.248],[857,0.228],[858,0.239],[859,0.222],[860,0.242],[861,0.247],[862,0.229],[863,0.238],[864,0.222],[865,0.246],[866,0.229],[867,0.239],[868,0.216],[869,0.231],[870,0.240],[871,0.222],[872,0.245],[873,0.216],[874,0.233],[875,0.225],[876,0.238],[877,0.217],[878,0.229],[879,0.211],[880,0.232],[881,0.236],[882,0.219],[883,0.227],[884,0.212],[885,0.235],[886,0.219],[887,0.229],[888,0.206],[889,0.221],[890,0.230],[891,0.212],[892,0.235],[893,0.206],[894,0.223],[895,0.215],[896,0.228],[897,0.207],[898,0.219],[899,0.201],[900,0.222],[901,0.227],[902,0.209],[903,0.218],[904,0.202],[905,0.226],[906,0.209],[907,0.220],[908,0.196],[909,0.212],[910,0.221],[910,0.237],[911,0.203],[912,0.226],[913,0.197],[914,0.214],[915,0.206],[916,0.219],[917,0.199],[918,0.210],[919,0.193],[920,0.214],[921,0.219],[922,0.201],[923,0.210],[924,0.195],[925,0.219],[926,0.202],[927,0.213],[928,0.190],[929,0.206],[930,0.215],[931,0.197],[932,0.220],[933,0.192],[934,0.209],[935,0.201],[936,0.214],[937,0.194],[938,0.206],[939,0.189],[940,0.210],[941,0.215],[942,0.198],[943,0.207],[944,0.192],[945,0.217],[946,0.201],[947,0.212],[948,0.189],[949,0.205],[949,0.167],[949,0.136],[950,0.214],[951,0.197],[952,0.221],[953,0.193],[954,0.210],[955,0.203],[956,0.217],[957,0.197],[958,0.210],[959,0.194],[960,0.215],[961,0.221],[962,0.205],[963,0.214],[963,0.183],[964,0.200],[965,0.225],[966,0.209],[967,0.221],[968,0.199],[969,0.215],[970,0.225],[971,0.209],[972,0.233],[973,0.206],[974,0.224],[975,0.218],[976,0.232],[977,0.213],[978,0.226],[978,0.183],[979,0.210],[980,0.232],[981,0.238],[982,0.222],[983,0.232],[984,0.218],[984,0.345],[984,0.338],[984,0.301],[985,0.243],[986,0.228],[987,0.240],[988,0.219],[989,0.236],[990,0.246],[991,0.230],[992,0.254],[993,0.227],[994,0.245],[995,0.239],[996,0.253],[997,0.235],[998,0.248],[999,0.232],[1000,0.255],[1001,0.261],[1002,0.246],[1003,0.256],[1004,0.242],[1005,0.268],[1006,0.253],[1007,0.265],[1008,0.244],[1008,0.329],[1009,0.261],[1010,0.271],[1011,0.256],[1011,0.317],[1012,0.280],[1013,0.253],[1014,0.272],[1015,0.266],[1016,0.280],[1017,0.261],[1018,0.274],[1019,0.258],[1020,0.280],[1021,0.286],[1022,0.270],[1022,0.252],[1023,0.280],[1024,0.266],[1025,0.291],[1026,0.276],[1027,0.288],[1027,0.249],[1028,0.266],[1029,0.283],[1030,0.295],[1031,0.278],[1031,0.255],[1032,0.296],[1033,0.333],
  [1034,0.362],[1035,0.368],[1036,0.372],[1037,0.365],[1038,0.376],[1039,0.370],[1040,0.378],[1041,0.373],[1042,0.380],[1043,0.375],[1044,0.382],[1045,0.446],[1046,0.437],
];

// ---- Axis ticks and labels ----
const yearTickDates = ["2016-01-01", "2017-01-01", "2018-01-01"];
const yearTickLabels = ["2016", "2017", "2018"];

const monthTickDates = [
  "2015-11-06", "2015-12-06", "2016-01-06", "2016-02-06", "2016-03-06", "2016-04-06", "2016-05-06",
  "2016-06-06", "2016-07-06", "2016-08-06", "2016-09-06", "2016-10-06", "2016-11-06", "2016-12-06",
  "2017-01-06", "2017-02-06", "2017-03-06", "2017-04-06", "2017-05-06", "2017-06-06", "2017-07-06",
  "2017-08-06", "2017-09-06", "2017-10-06", "2017-11-06", "2017-12-06", "2018-01-06", "2018-02-06",
  "2018-03-06", "2018-04-06", "2018-05-06", "2018-06-06", "2018-07-06", "2018-08-06", "2018-09-06",
  "2018-10-06", "2018-11-06",
];
const monthLabelDates = [
  "2015-11-06", "2016-02-06", "2016-05-06", "2016-08-06", "2016-11-06", "2017-02-06",
  "2017-06-06", "2017-09-06", "2017-12-06", "2018-03-06", "2018-06-06", "2018-09-06",
];
const monthLabelTexts = ["Nov", "Feb", "May", "Aug", "Nov", "Feb", "Jun", "Sep", "Dec", "Mar", "Jun", "Sep"];

const redTicks = [0.2, 0.25, 0.3, 0.35, 0.4, 0.45];
const redTickLabels = ["0.20", "", "0.30", "", "0.40", ""];
const greenTicks = [0.32, 0.34, 0.36, 0.38, 0.4, 0.42];
const greenTickLabels = ["0.32", "", "0.36", "", "0.40", ""];
const blueTicks = [0.2, 0.3, 0.4, 0.5];
const blueTickLabels = ["0.2", "0.3", "0.4", "0.5"];

const MAIN_TITLE = "Algar16: Color indices over time";

const ORIGIN = Date.UTC(2016, 0, 1);
const dayOf = (iso: string) => (Date.parse(iso + "T00:00:00Z") - ORIGIN) / 86400000;

const FONT = '"Liberation Sans", Arial, Helvetica, sans-serif';
const X_MIN = -99.5;
const X_MAX = 1076;

type PanelSpec = {
  label: string;
  labelX: number;
  color: string;
  points: Pt[];
  yMin: number;
  yMax: number;
  yTicks: number[];
  yTickLabels: string[];
  top: number;
  height: number;
  padTop: number;
  padBottom: number;
  monthAxis: boolean;
  showTitle: boolean;
};

const panels: PanelSpec[] = [
  {
    label: "Red Index", labelX: 78, color: "#8B0000", points: redPoints,
    yMin: 0.1728, yMax: 0.4845, yTicks: redTicks, yTickLabels: redTickLabels,
    top: 0, height: 530, padTop: 95, padBottom: 66, monthAxis: false, showTitle: true,
  },
  {
    label: "Green Index", labelX: 90, color: "#006400", points: greenPoints,
    yMin: 0.3036, yMax: 0.4401, yTicks: greenTicks, yTickLabels: greenTickLabels,
    top: 530, height: 470, padTop: 31, padBottom: 70, monthAxis: false, showTitle: false,
  },
  {
    label: "Blue Index", labelX: 90, color: "#00008B", points: bluePoints,
    yMin: 0.121, yMax: 0.519, yTicks: blueTicks, yTickLabels: blueTickLabels,
    top: 1000, height: 494, padTop: 27, padBottom: 98, monthAxis: true, showTitle: false,
  },
];

function stretchedText(ctx: CanvasRenderingContext2D, text: string, x: number, y: number, sx: number, align: CanvasTextAlign) {
  ctx.save();
  ctx.translate(x, y);
  ctx.scale(sx, 1);
  ctx.textAlign = align;
  ctx.textBaseline = "alphabetic";
  ctx.fillText(text, 0, 0);
  ctx.restore();
}

function Panel({ spec }: { spec: PanelSpec }) {
  const ref = useRef<HTMLCanvasElement | null>(null);

  useEffect(() => {
    const canvas = ref.current;
    if (!canvas) return;

    const frame = {
      id: "frame",
      afterDatasetsDraw(chart: any) {
        const { ctx, chartArea: a, scales } = chart;
        const xs = scales.x;
        const ys = scales.y;
        const L = Math.round(a.left) + 0.5;
        const R = Math.round(a.right) - 0.5;
        const T = Math.round(a.top) + 0.5;
        const B = Math.round(a.bottom) - 0.5;
        ctx.save();
        ctx.strokeStyle = "#3a3a3a";
        ctx.lineWidth = 1;
        ctx.strokeRect(L, T, R - L, B - T);
        ctx.fillStyle = "#000";

        // y axis ticks and rotated labels
        ctx.font = `20px ${FONT}`;
        spec.yTicks.forEach((v, i) => {
          const py = Math.round(ys.getPixelForValue(v)) + 0.5;
          ctx.beginPath();
          ctx.moveTo(L - 13, py);
          ctx.lineTo(L, py);
          ctx.stroke();
          const t = spec.yTickLabels[i];
          if (t) {
            ctx.save();
            ctx.translate(29.5, py);
            ctx.rotate(-Math.PI / 2);
            ctx.textAlign = "center";
            ctx.textBaseline = "alphabetic";
            ctx.fillText(t, 0, 0);
            ctx.restore();
          }
        });

        ctx.font = `21px ${FONT}`;
        ctx.textAlign = "center";
        ctx.textBaseline = "alphabetic";
        if (!spec.monthAxis) {
          yearTickDates.forEach((d, i) => {
            const px = Math.round(xs.getPixelForValue(dayOf(d))) + 0.5;
            ctx.beginPath();
            ctx.moveTo(px, B);
            ctx.lineTo(px, B + 13);
            ctx.stroke();
            ctx.fillText(yearTickLabels[i], px, B + 50);
          });
        } else {
          monthTickDates.forEach((d) => {
            const px = Math.round(xs.getPixelForValue(dayOf(d))) + 0.5;
            ctx.beginPath();
            ctx.moveTo(px, B);
            ctx.lineTo(px, B + 14);
            ctx.stroke();
          });
          monthLabelDates.forEach((d, i) => {
            const px = xs.getPixelForValue(dayOf(d));
            ctx.fillText(monthLabelTexts[i], px, B + 51);
          });
          yearTickDates.forEach((d, i) => {
            const px = Math.round(xs.getPixelForValue(dayOf(d))) + 0.5;
            ctx.beginPath();
            ctx.moveTo(px, B + 57);
            ctx.lineTo(px, B + 66);
            ctx.stroke();
            ctx.fillText(yearTickLabels[i], px, B + 94);
          });
        }

        // panel caption
        ctx.font = `19px ${FONT}`;
        stretchedText(ctx, spec.label, spec.labelX, a.top - 4, 1.15, "left");

        if (spec.showTitle) {
          ctx.font = `bold 24px ${FONT}`;
          stretchedText(ctx, MAIN_TITLE, 453, 26, 1.155, "center");
        }
        ctx.restore();
      },
    };

    const chart = new Chart(canvas, {
      type: "scatter",
      data: {
        datasets: [
          {
            data: spec.points.map(([d, v]) => ({ x: d, y: v })),
            pointStyle: "rectRot",
            pointRadius: 3.6,
            pointHoverRadius: 3.6,
            backgroundColor: spec.color,
            borderColor: spec.color,
            pointBorderWidth: 0,
            borderWidth: 0,
          },
        ],
      },
      options: {
        responsive: false,
        animation: false,
        events: [],
        devicePixelRatio: 1,
        layout: { padding: { left: 62, right: 1, top: spec.padTop, bottom: spec.padBottom } },
        plugins: { legend: { display: false }, tooltip: { enabled: false }, title: { display: false } },
        scales: {
          x: { type: "linear", min: X_MIN, max: X_MAX, display: false },
          y: { type: "linear", min: spec.yMin, max: spec.yMax, display: false },
        },
      },
      plugins: [frame],
    });

    return () => chart.destroy();
  }, [spec]);

  return (
    <canvas
      ref={ref}
      width={858}
      height={spec.height}
      style={{ position: "absolute", left: 0, top: spec.top, width: 858, height: spec.height }}
    />
  );
}

export default function App() {
  return (
    <div style={{ position: "absolute", left: 0, top: 0, width: 858, height: 1494, background: "#fff" }}>
      {panels.map((p) => (
        <Panel key={p.label} spec={p} />
      ))}
    </div>
  );
}
